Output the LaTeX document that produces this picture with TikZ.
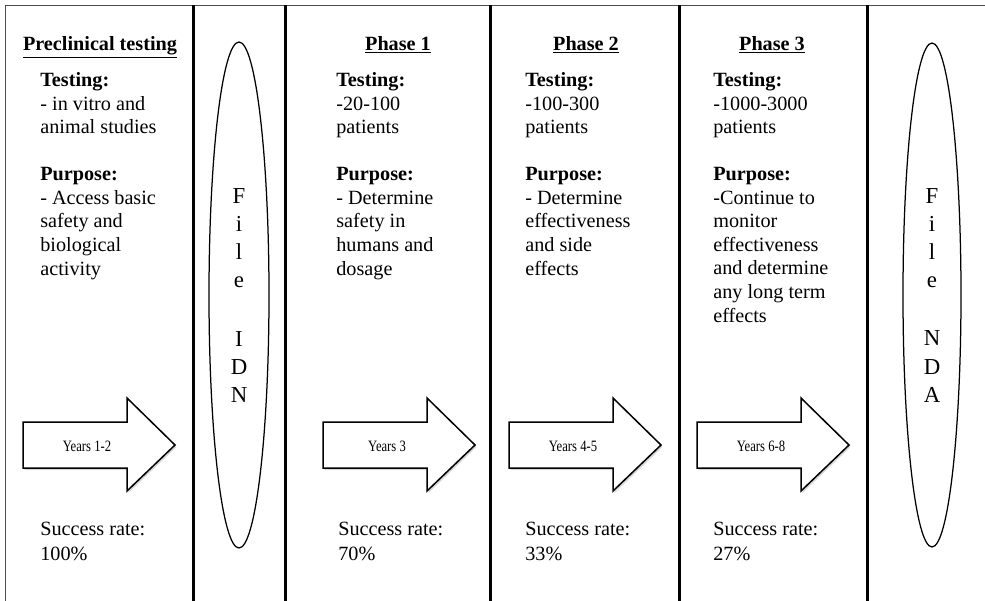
\documentclass[tikz,border=0pt]{standalone}
\usepackage{fontspec}
\setmainfont{Liberation Serif}
\usetikzlibrary{shadows}

\begin{document}
\begin{tikzpicture}[x=0.2mm, y=-0.2mm,
  hdr/.style={font=\fontsize{11.5}{13.4}\selectfont\bfseries, anchor=base, inner sep=0pt},
  body/.style={font=\fontsize{11.5}{13.4}\selectfont, align=left, anchor=base west, inner sep=0pt},
  rate/.style={font=\fontsize{11.5}{14.2}\selectfont, align=left, anchor=base west, inner sep=0pt},
  yrs/.style={font=\fontsize{9}{10}\selectfont, inner sep=0pt},
  ltr/.style={font=\fontsize{13}{15}\selectfont, anchor=base, inner sep=0pt},
  arrowbox/.style={line width=0.3mm, fill=white,
    drop shadow={shadow xshift=0.3mm, shadow yshift=-0.4mm, fill=black!30, opacity=0.5}}]
  \useasboundingbox (0,0) rectangle (985,601);

  % frame and column rules
  \draw[line width=0.2mm, black!70] (5,601) -- (5,5) -- (985,5);
  \foreach \x in {193,285,490,679,867} {
    \draw[line width=0.6mm] (\x,5) -- (\x,601);
  }

  % Preclinical testing (text nodes sit on the baseline of their last line)
  \node[hdr] (pre) at (100,50) {\underline{Preclinical testing}};
  \node[body] (pretext) at (40,275) {\textbf{Testing:}\\ - in vitro and\\ animal studies\\ \\
    \textbf{Purpose:}\\ - Access basic\\ safety and\\ biological\\ activity};
  \node[rate] (prerate) at (40,560) {Success rate:\\ 100\%};

  % Phase 1
  \node[hdr] (ph1) at (398,50) {\underline{Phase 1}};
  \node[body] (ph1text) at (336,275) {\textbf{Testing:}\\ -20-100\\ patients\\ \\
    \textbf{Purpose:}\\ - Determine\\ safety in\\ humans and\\ dosage};
  \node[rate] (ph1rate) at (338,560) {Success rate:\\ 70\%};

  % Phase 2
  \node[hdr] (ph2) at (586,50) {\underline{Phase 2}};
  \node[body] (ph2text) at (525,275) {\textbf{Testing:}\\ -100-300\\ patients\\ \\
    \textbf{Purpose:}\\ - Determine\\ effectiveness\\ and side\\ effects};
  \node[rate] (ph2rate) at (525,560) {Success rate:\\ 33\%};

  % Phase 3
  \node[hdr] (ph3) at (772,50) {\underline{Phase 3}};
  \node[body] (ph3text) at (713,322) {\textbf{Testing:}\\ -1000-3000\\ patients\\ \\
    \textbf{Purpose:}\\ -Continue to\\ monitor\\ effectiveness\\ and determine\\
    any long term\\ effects};
  \node[rate] (ph3rate) at (713,560) {Success rate:\\ 27\%};

  % year arrows
  \foreach \ax/\yr [count=\i] in {23/1-2, 323/3, 509/4-5, 697/6-8} {
    \draw[arrowbox] (\ax,422) -- ({\ax+104},422) -- ({\ax+104},398) -- ({\ax+152},445)
      -- ({\ax+104},491) -- ({\ax+104},468) -- (\ax,468) -- cycle;
    \node[yrs] (yrs\i) at ({\ax+64},446) {\scalebox{0.8}[1]{Years \yr}};
  }

  % filings
  \coordinate (idn) at (239,295);
  \draw[line width=0.25mm] (idn) ellipse (30 and 253);
  \foreach \ch/\yy [count=\i] in {F/203, i/231, l/259, e/287, I/346, D/374, N/402} {
    \node[ltr] (idn\i) at (239,\yy) {\ch};
  }
  \coordinate (nda) at (932,295);
  \draw[line width=0.25mm] (nda) ellipse (29 and 252);
  \foreach \ch/\yy [count=\i] in {F/203, i/231, l/259, e/287, N/345, D/374, A/402} {
    \node[ltr] (nda\i) at (932,\yy) {\ch};
  }
\end{tikzpicture}
\end{document}
